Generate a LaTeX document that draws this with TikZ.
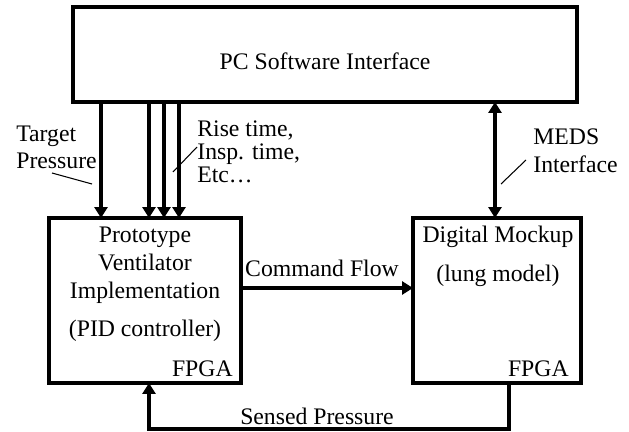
\documentclass[tikz,border=0pt]{standalone}
\usepackage{fontspec}
\setmainfont{Liberation Serif}
\usetikzlibrary{arrows.meta,positioning}
\tikzset{
  unit/.style={draw=black,line width=1.8pt,inner sep=0pt,outer sep=0pt},
  lbl/.style={inner sep=0pt,font=\fontsize{13.5}{16}\selectfont},
  flow/.style={-{Triangle[length=0.22cm,width=0.26cm]},line width=1.8pt},
  twoway/.style={{Triangle[length=0.22cm,width=0.26cm]}-{Triangle[length=0.22cm,width=0.26cm]},line width=1.8pt},
  leader/.style={line width=.6pt},
}

\begin{document}
\begin{tikzpicture}[x=0.02cm,y=-0.02cm]
    \useasboundingbox (0,0) rectangle (629,432);
    % blocks
    \node[unit,minimum width=10.08cm,minimum height=1.9cm] (pc) at (325,54.5) {};
    \node[unit,minimum width=3.84cm,minimum height=3.3cm] (proto) at (145,300.5) {};
    \node[unit,minimum width=3.36cm,minimum height=3.3cm] (mock) at (497,300.5) {};
    \node[lbl,anchor=base] (pctext) at (325,70) {PC Software Interface};
    \foreach \txt/\yy [count=\i] in {Prototype/243,Ventilator/271,Implementation/298,{(PID controller)}/337}{
      \node[lbl,anchor=base] (pv\i) at (145,\yy) {\txt};
    }
    \node[lbl,anchor=base east] (fpgaa) at (233,377) {FPGA};
    \node[lbl,anchor=base] (dm) at (498,243) {Digital Mockup};
    \node[lbl,anchor=base] (lm) at (498,282) {(lung model)};
    \node[lbl,anchor=base east] (fpgab) at (569,377) {FPGA};
    % settings from the PC
    \foreach \xx [count=\i] in {101,149,164,179}{
      \coordinate (in\i) at (\xx,0);
      \draw[flow] (pc.south -| in\i) -- (proto.north -| in\i);
    }
    \node[lbl,anchor=base west] (tgta) at (16,142) {Target};
    \node[lbl,anchor=base west] (tgtb) at (16,169) {Pressure};
    \draw[leader] (52,173) -- (92,184);
    \foreach \txt/\yy [count=\i] in {{Rise time,}/137,{Insp. time,}/160,{Etc…}/183}{
      \node[lbl,anchor=base west] (rt\i) at (197,\yy) {\txt};
    }
    \draw[leader] (173,172) -- (197,147);
    % MEDS link
    \coordinate (meds) at (495,0);
    \draw[twoway] (pc.south -| meds) -- (mock.north -| meds);
    \node[lbl,anchor=base west] (medsa) at (533,145) {MEDS};
    \node[lbl,anchor=base west] (medsb) at (533,173) {Interface};
    \draw[leader] (501,184) -- (526,160);
    % command and feedback
    \coordinate (cf) at (0,288);
    \draw[flow] (proto.east |- cf) -- (mock.west |- cf);
    \node[lbl,anchor=base] (cflbl) at (322,276) {Command Flow};
    \coordinate (sr) at (509,429);
    \coordinate (sl) at (149,429);
    \draw[flow] (mock.south -| sr) -- (sr) -- (sl) -- (proto.south -| sl);
    \node[lbl,anchor=base] (splbl) at (317,424) {Sensed Pressure};
\end{tikzpicture}
\end{document}
